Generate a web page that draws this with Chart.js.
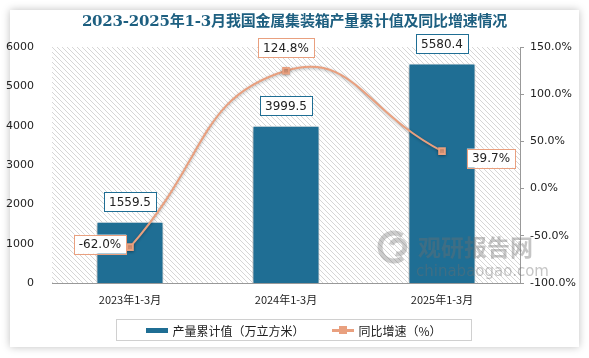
<!DOCTYPE html>
<html lang="zh">
<head>
  <meta charset="UTF-8">
  <title>2023-2025年1-3月我国金属集装箱产量累计值及同比增速情况</title>
  <script src="https://cdn.jsdelivr.net/npm/chart.js"></script>
  <style>
    body { margin: 0; background: #fff; }
    #wrap { position: relative; width: 589px; height: 358px; overflow: hidden; }
    #card {
      position: absolute; left: 10px; top: 10px; width: 569px; height: 337px;
      background: #fff; box-shadow: 0 0 8px rgba(0,0,0,0.25);
    }
    canvas { position: absolute; left: 0; top: 0; }
    h1 {
      position: absolute; left: 0; top: 9px; width: 589px; margin: 0;
      text-align: center; font-family: "DejaVu Serif", "Noto Sans CJK SC", serif;
      font-size: 15px; font-weight: bold; color: #1d5f80; letter-spacing: -0.2px;
    }
    #legend {
      position: absolute; left: 116px; top: 319px; width: 356px; height: 22px;
      border: 1px solid #d0d0d0; box-sizing: border-box;
      font-family: "Noto Sans CJK SC", sans-serif; font-size: 12px; color: #222;
      display: flex; align-items: center; justify-content: center; gap: 28px;
    }
    .item { display: flex; align-items: center; gap: 4px; }
    .barkey { width: 22px; height: 5px; background: #1f6e94; }
    .linekey { position: relative; width: 22px; height: 3px; background: #e9a07f; }
    .linekey::after {
      content: ""; position: absolute; left: 7px; top: -3px; width: 8px; height: 8px; background: #e9a07f;
    }
  </style>
</head>
<body>
<div id="wrap">
  <div id="card"></div>
  <canvas id="chart" width="589" height="358"></canvas>
  <h1>2023-2025年1-3月我国金属集装箱产量累计值及同比增速情况</h1>
  <div id="legend">
    <div class="item"><span class="barkey"></span>产量累计值（万立方米）</div>
    <div class="item"><span class="linekey"></span>同比增速（%）</div>
  </div>
</div>
<script>
  const categories = ['2023年1-3月', '2024年1-3月', '2025年1-3月'];
  const outputValues = [1559.5, 3999.5, 5580.4];
  const growthRates = [-62.0, 124.8, 39.7];

  const barColor = '#1f6e94';
  const lineColor = '#e9a07f';

  // diagonal hatch for the plot background
  function makeHatch() {
    const c = document.createElement('canvas');
    c.width = 5; c.height = 5;
    const g = c.getContext('2d');
    g.strokeStyle = '#d6d6d6';
    g.lineWidth = 1;
    g.beginPath();
    g.moveTo(0, 0); g.lineTo(5, 5);
    g.moveTo(-1, 4); g.lineTo(1, 6);
    g.moveTo(4, -1); g.lineTo(6, 1);
    g.stroke();
    return g.createPattern(c, 'repeat');
  }

  const hatchPlugin = {
    id: 'hatch',
    beforeDraw(chart) {
      const { ctx, chartArea: a } = chart;
      ctx.save();
      ctx.fillStyle = makeHatch();
      ctx.fillRect(a.left, a.top, a.right - a.left, a.bottom - a.top);
      ctx.restore();
    },
    beforeDatasetDraw(chart, args) {
      const ctx = chart.ctx;
      ctx.save();
      ctx.shadowColor = 'rgba(0,0,0,0.3)';
      ctx.shadowBlur = args.index === 0 ? 5 : 3;
      ctx.shadowOffsetX = args.index === 0 ? -1 : 0;
      ctx.shadowOffsetY = 1;
    },
    afterDatasetDraw(chart) {
      chart.ctx.restore();
    },
    afterDraw(chart) {
      // watermark on top
      const ctx = chart.ctx;
      ctx.save();
      ctx.fillStyle = 'rgba(110,110,110,0.4)';
      ctx.strokeStyle = 'rgba(110,110,110,0.35)';
      ctx.lineWidth = 5;
      ctx.beginPath();
      ctx.arc(394, 247, 14, 0.9, Math.PI * 1.7);
      ctx.stroke();
      ctx.beginPath();
      ctx.arc(398, 247, 7, Math.PI * 1.1, Math.PI * 2.6);
      ctx.stroke();
      ctx.font = 'bold 23px "Noto Sans CJK SC"';
      ctx.textBaseline = 'alphabetic';
      ctx.fillText('观研报告网', 418, 256);
      ctx.font = '15px "DejaVu Sans"';
      ctx.fillText('chinabaogao.com', 416, 276);
      ctx.restore();
    }
  };

  function box(ctx, text, cx, cy, border) {
    ctx.font = '12px "DejaVu Sans"';
    const w = ctx.measureText(text).width + 10;
    const h = 19;
    ctx.fillStyle = '#fff';
    ctx.fillRect(cx - w / 2, cy - h / 2, w, h);
    ctx.strokeStyle = border;
    ctx.lineWidth = 1;
    ctx.strokeRect(Math.round(cx - w / 2) + 0.5, Math.round(cy - h / 2) + 0.5, Math.round(w), h);
    ctx.fillStyle = '#222';
    ctx.textAlign = 'center';
    ctx.textBaseline = 'middle';
    ctx.fillText(text, cx, cy + 1);
    return w;
  }

  const labelPlugin = {
    id: 'labels',
    afterDatasetsDraw(chart) {
      const ctx = chart.ctx;
      ctx.save();
      chart.getDatasetMeta(0).data.forEach((bar, i) => {
        box(ctx, outputValues[i].toFixed(1), bar.x, bar.y - 20, barColor);
      });
      const pts = chart.getDatasetMeta(1).data;
      pts.forEach((p, i) => {
        const t = growthRates[i].toFixed(1) + '%';
        if (i === 0) box(ctx, t, p.x - 30, p.y - 3, lineColor);
        else if (i === 1) box(ctx, t, p.x, p.y - 23, lineColor);
        else box(ctx, t, p.x + 49, p.y + 7, lineColor);
      });
      ctx.restore();
    }
  };

  new Chart(document.getElementById('chart'), {
    data: {
      labels: categories,
      datasets: [
        {
          type: 'bar',
          label: '产量累计值（万立方米）',
          data: outputValues,
          backgroundColor: barColor,
          borderColor: '#ffffff',
          borderWidth: 1,
          barPercentage: 0.43,
          categoryPercentage: 1,
          yAxisID: 'y',
          order: 2
        },
        {
          type: 'line',
          label: '同比增速（%）',
          data: growthRates,
          borderColor: lineColor,
          backgroundColor: lineColor,
          borderWidth: 2,
          pointStyle: 'rect',
          pointRadius: 4,
          tension: 0.5,
          yAxisID: 'y1',
          order: 1
        }
      ]
    },
    options: {
      responsive: false,
      animation: false,
      layout: { padding: { top: 47, bottom: 50, left: 0, right: 0 } },
      plugins: { legend: { display: false }, tooltip: { enabled: false } },
      scales: {
        x: {
          grid: { display: false },
          border: { color: '#999' },
          ticks: { color: '#222', font: { family: 'Noto Sans CJK SC', size: 11 }, padding: 2 },
          afterFit(s) { s.height = 25; }
        },
        y: {
          position: 'left',
          min: 0, max: 6000,
          ticks: {
            stepSize: 1000, color: '#222', font: { family: 'DejaVu Sans', size: 11 }, padding: 10,
            callback: v => String(v)
          },
          grid: { display: false },
          border: { display: false },
          afterFit(s) { s.width = 52; }
        },
        y1: {
          position: 'right',
          min: -100, max: 150,
          ticks: {
            stepSize: 50, color: '#222', font: { family: 'DejaVu Sans', size: 11 }, padding: 6,
            callback: v => v.toFixed(1) + '%'
          },
          grid: { drawOnChartArea: false, tickLength: 4, color: '#999' },
          border: { color: '#999' },
          afterFit(s) { s.width = 69; }
        }
      }
    },
    plugins: [hatchPlugin, labelPlugin]
  });
</script>
</body>
</html>
